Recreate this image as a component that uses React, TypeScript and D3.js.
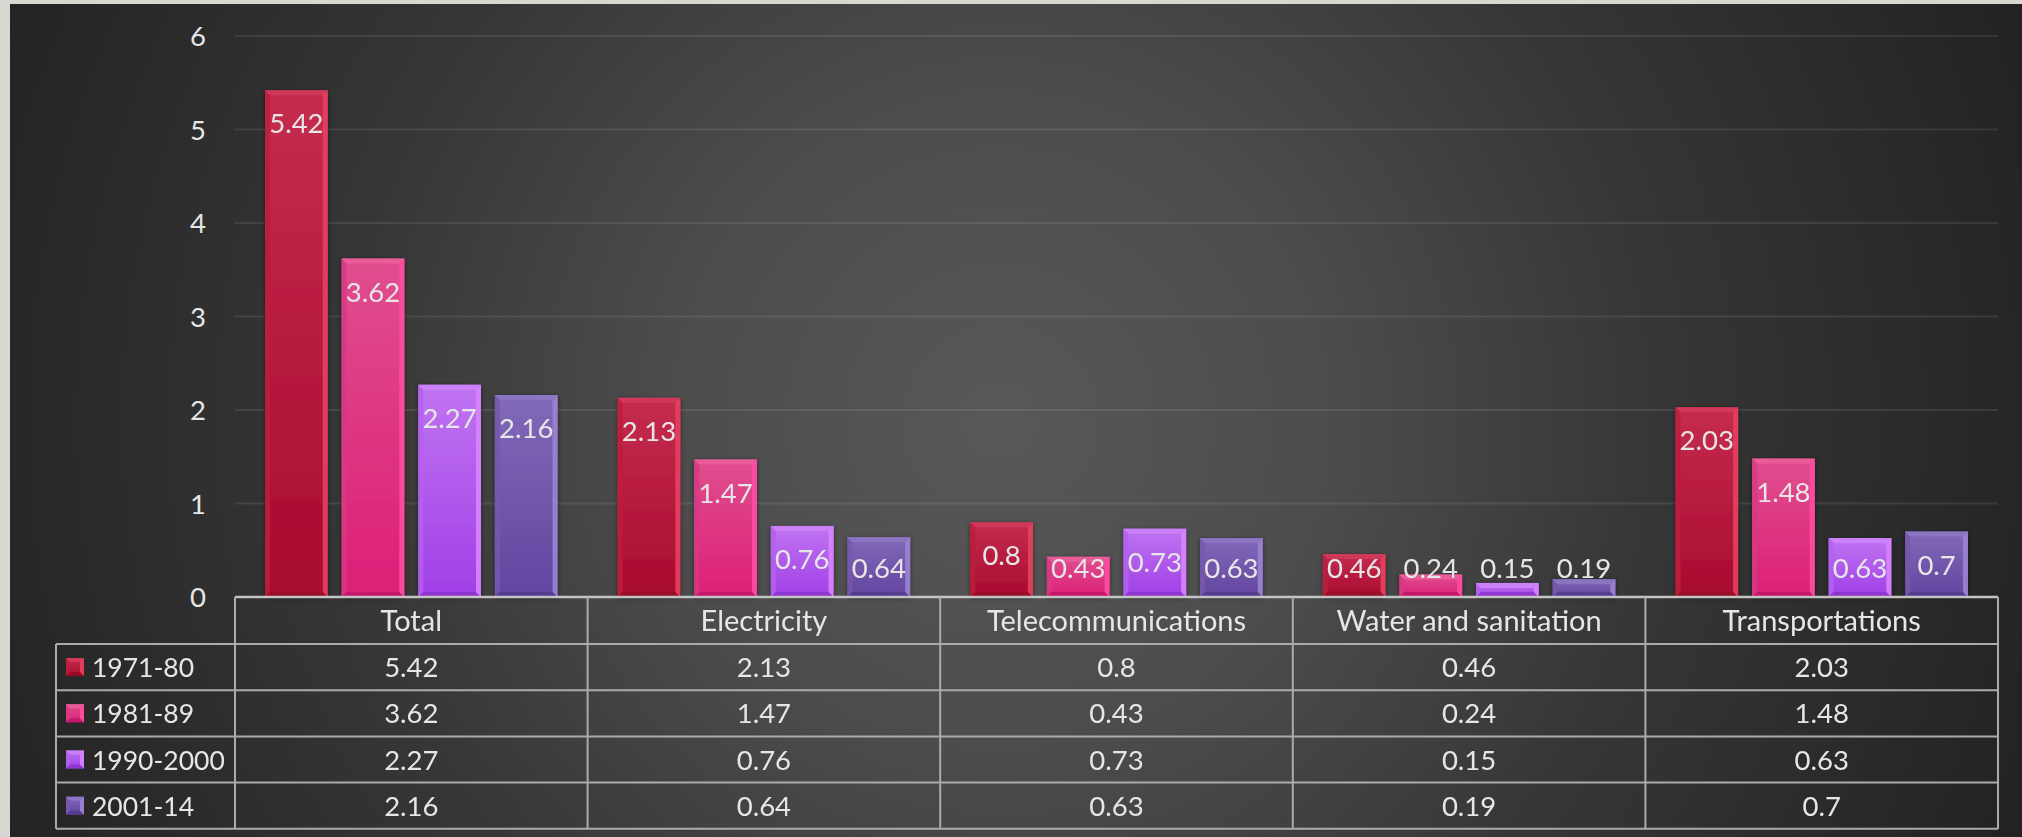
import React from "react";
import * as d3 from "d3";

// Investment growth rates by sector and period
const categories = ["Total", "Electricity", "Telecommunications", "Water and sanitation", "Transportations"];
const periods = ["1971-80", "1981-89", "1990-2000", "2001-14"];
const values1971 = [5.42, 2.13, 0.8, 0.46, 2.03];
const values1981 = [3.62, 1.47, 0.43, 0.24, 1.48];
const values1990 = [2.27, 0.76, 0.73, 0.15, 0.63];
const values2001 = [2.16, 0.64, 0.63, 0.19, 0.7];
const yTicks = [0, 1, 2, 3, 4, 5, 6];

const seriesValues = [values1971, values1981, values1990, values2001];

// Bar palettes: body gradient top/bottom, and bevel faces
const palettes = [
  { top: "#c52c4e", bottom: "#a80b2f", bevTop: "#d23b5c", bevRight: "#e7405f", bevLeft: "#bb1f40", bevBottom: "#960826" },
  { top: "#e04e8e", bottom: "#dc1f78", bevTop: "#e95d9a", bevRight: "#ff4c9f", bevLeft: "#d63a82", bevBottom: "#c01568" },
  { top: "#c074f2", bottom: "#a03fe6", bevTop: "#cc84f8", bevRight: "#d884ff", bevLeft: "#b262ec", bevBottom: "#8c34cc" },
  { top: "#8169b9", bottom: "#62459f", bevTop: "#8c76c2", bevRight: "#9a84d2", bevLeft: "#7558ad", bevBottom: "#55398c" },
];

const W = 2022;
const H = 837;
const plotLeft = 235;
const plotRight = 1998;
const plotTop = 36;
const plotBottom = 597;
const headerH = 47;
const rowH = 46.2;
const tableLeft = 56;
const textColor = "#e6e6e6";
const font = "Lato, 'Open Sans', sans-serif";
const numSize = 27.5;
const wordSize = 29;

function bevelFaces(x: number, y: number, w: number, h: number, bIn: number) {
  const b = Math.min(bIn, h / 2, w / 2);
  const p = (pts: number[][]) => pts.map((q) => q.join(",")).join(" ");
  return {
    top: p([[x, y], [x + w, y], [x + w - b, y + b], [x + b, y + b]]),
    right: p([[x + w, y], [x + w, y + h], [x + w - b, y + h - b], [x + w - b, y + b]]),
    bottom: p([[x, y + h], [x + w, y + h], [x + w - b, y + h - b], [x + b, y + h - b]]),
    left: p([[x, y], [x, y + h], [x + b, y + h - b], [x + b, y + b]]),
  };
}

function BevelRect({ x, y, w, h, s, b }: { x: number; y: number; w: number; h: number; s: number; b: number }) {
  const pal = palettes[s];
  const f = bevelFaces(x, y, w, h, b);
  return (
    <g>
      <rect x={x} y={y} width={w} height={h} fill={`url(#barGrad${s})`} />
      <polygon points={f.left} fill={pal.bevLeft} opacity={0.85} />
      <polygon points={f.bottom} fill={pal.bevBottom} opacity={0.85} />
      <polygon points={f.top} fill={pal.bevTop} opacity={0.9} />
      <polygon points={f.right} fill={pal.bevRight} opacity={0.9} />
    </g>
  );
}

export default function App() {
  const x0 = d3.scaleBand<string>().domain(categories).range([plotLeft, plotRight]).padding(0);
  const x1 = d3
    .scaleBand<string>()
    .domain(periods)
    .range([0, x0.bandwidth()])
    .paddingInner(0.1815)
    .paddingOuter(0.392);
  const y = d3.scaleLinear().domain([0, 6]).range([plotBottom, plotTop]);

  const rowTop = (i: number) => plotBottom + headerH + i * rowH;
  const tableBottom = rowTop(periods.length);
  const lineColor = "#ababab";

  return (
    <svg
      width={W}
      height={H}
      viewBox={`0 0 ${W} ${H}`}
      style={{ position: "fixed", left: 0, top: 0, display: "block" }}
    >
      <defs>
        <radialGradient id="bgGrad" gradientUnits="userSpaceOnUse" cx={1000} cy={420} r={1100}>
          <stop offset="0" stopColor="#585858" />
          <stop offset="0.3" stopColor="#4c4c4c" />
          <stop offset="0.6" stopColor="#363636" />
          <stop offset="1" stopColor="#222222" />
        </radialGradient>
        {palettes.map((p, i) => (
          <linearGradient key={i} id={`barGrad${i}`} x1="0" y1="0" x2="0" y2="1">
            <stop offset="0" stopColor={p.top} />
            <stop offset="1" stopColor={p.bottom} />
          </linearGradient>
        ))}
        <filter id="barShadow" x="-20%" y="-20%" width="140%" height="140%">
          <feDropShadow dx="0" dy="1" stdDeviation="2" floodColor="#000" floodOpacity="0.45" />
        </filter>
      </defs>

      {/* slide frame and dark background */}
      <rect x={0} y={0} width={W} height={H} fill="#d9d7d2" />
      <rect x={10} y={4} width={W - 10} height={H - 4} fill="url(#bgGrad)" />

      {/* gridlines */}
      {yTicks
        .filter((t) => t > 0)
        .map((t) => (
          <line
            key={t}
            x1={plotLeft}
            x2={plotRight}
            y1={y(t)}
            y2={y(t)}
            stroke="rgba(255,255,255,0.09)"
            strokeWidth={2}
          />
        ))}

      {/* y tick labels */}
      {yTicks.map((t) => (
        <text
          key={t}
          x={206}
          y={y(t) + 10}
          textAnchor="end"
          fill={textColor}
          fontFamily={font}
          fontSize={numSize}
        >
          {t}
        </text>
      ))}

      {/* bars */}
      <g filter="url(#barShadow)">
        {categories.map((c, ci) =>
          periods.map((p, si) => {
            const v = seriesValues[si][ci];
            const bx = (x0(c) ?? 0) + (x1(p) ?? 0);
            const by = y(v);
            return (
              <BevelRect key={`${c}-${p}`} x={bx} y={by} w={x1.bandwidth()} h={plotBottom - by} s={si} b={5} />
            );
          })
        )}
      </g>

      {/* value labels */}
      {categories.map((c, ci) =>
        periods.map((p, si) => {
          const v = seriesValues[si][ci];
          const cx = (x0(c) ?? 0) + (x1(p) ?? 0) + x1.bandwidth() / 2;
          const ly = Math.min(y(v) + 43, plotBottom - 19);
          return (
            <text
              key={`l-${c}-${p}`}
              x={cx}
              y={ly}
              textAnchor="middle"
              fill={textColor}
              fontFamily={font}
              fontSize={numSize}
            >
              {String(v)}
            </text>
          );
        })
      )}

      {/* data table */}
      <g stroke={lineColor} strokeWidth={2} fill="none">
        {/* horizontal rules */}
        <line x1={plotLeft} x2={plotRight} y1={plotBottom} y2={plotBottom} stroke="#c4c4c4" strokeWidth={2.5} />
        {periods.map((p, i) => (
          <line key={`h${i}`} x1={tableLeft} x2={plotRight} y1={rowTop(i)} y2={rowTop(i)} />
        ))}
        <line x1={tableLeft} x2={plotRight} y1={tableBottom} y2={tableBottom} />
        {/* vertical rules */}
        <line x1={tableLeft} x2={tableLeft} y1={rowTop(0)} y2={tableBottom} />
        {categories.map((c) => (
          <line key={`v${c}`} x1={x0(c)} x2={x0(c)} y1={plotBottom} y2={tableBottom} />
        ))}
        <line x1={plotRight} x2={plotRight} y1={plotBottom} y2={tableBottom} />
      </g>

      {/* column headers */}
      {categories.map((c) => (
        <text
          key={`hd-${c}`}
          x={(x0(c) ?? 0) + x0.bandwidth() / 2}
          y={plotBottom + headerH / 2 + 10}
          textAnchor="middle"
          fill={textColor}
          fontFamily={font}
          fontSize={wordSize}
        >
          {c}
        </text>
      ))}

      {/* legend keys and table values */}
      {periods.map((p, si) => {
        const cy = rowTop(si) + rowH / 2;
        return (
          <g key={`row-${p}`}>
            <BevelRect x={66} y={cy - 9} w={18} h={18} s={si} b={4} />
            <text x={92} y={cy + 10} fill={textColor} fontFamily={font} fontSize={26.5}>
              {p}
            </text>
            {categories.map((c, ci) => (
              <text
                key={`cell-${p}-${c}`}
                x={(x0(c) ?? 0) + x0.bandwidth() / 2}
                y={cy + 10}
                textAnchor="middle"
                fill={textColor}
                fontFamily={font}
                fontSize={numSize}
              >
                {String(seriesValues[si][ci])}
              </text>
            ))}
          </g>
        );
      })}
    </svg>
  );
}
